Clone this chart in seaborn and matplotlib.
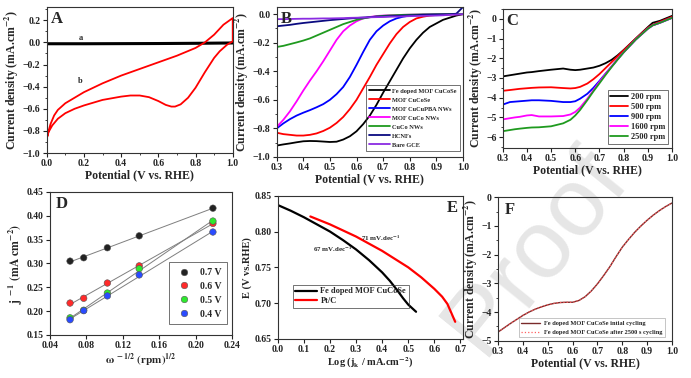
import numpy as np
import pandas as pd
import seaborn as sns
import matplotlib.pyplot as plt
from matplotlib.ticker import AutoMinorLocator, MultipleLocator

# ---------------- data ----------------
# A: CV curves
a_x = [0.0, 0.2, 0.4, 0.6, 0.8, 1.0]
a_y = [-0.012, -0.012, -0.011, -0.010, -0.008, -0.005]
b_x = [0.0, 0.01, 0.02, 0.04, 0.06, 0.1, 0.15, 0.2, 0.3, 0.4, 0.5, 0.6, 0.7, 0.8, 0.85, 0.9, 0.95, 1.0,
       1.0, 0.97, 0.93, 0.9, 0.85, 0.8, 0.76, 0.72, 0.69, 0.67, 0.64, 0.6, 0.55, 0.5, 0.45, 0.4, 0.3, 0.2,
       0.15, 0.1, 0.06, 0.03, 0.01, 0.0]
b_y = [-0.87, -0.80, -0.74, -0.66, -0.61, -0.55, -0.50, -0.45, -0.37, -0.30, -0.24, -0.18, -0.12, -0.05,
       0.0, 0.07, 0.16, 0.22,
       0.01, -0.02, -0.08, -0.14, -0.27, -0.41, -0.50, -0.56, -0.58, -0.58, -0.565, -0.53, -0.495, -0.48,
       -0.48, -0.49, -0.52, -0.57, -0.60, -0.64, -0.69, -0.75, -0.81, -0.87]

# B: LSV of catalysts
lsv_x = [0.3, 0.325, 0.35, 0.375, 0.4, 0.425, 0.45, 0.475, 0.5, 0.525, 0.55, 0.575, 0.6, 0.625, 0.65,
         0.675, 0.7, 0.725, 0.75, 0.775, 0.8, 0.825, 0.85, 0.875, 0.9, 0.925, 0.95, 0.975, 1.0]
lsv_names = ["Fe doped MOF CuCoSe", "MOF CuCoSe", "MOF CuCuPBA NWs", "MOF CuCo NWs",
             "CuCo NWs", "HCNFs", "Bare GCE"]
lsv_fe = [-0.92, -0.912, -0.905, -0.897, -0.89, -0.888, -0.889, -0.892, -0.895, -0.893, -0.878, -0.855,
          -0.82, -0.77, -0.71, -0.635, -0.55, -0.47, -0.39, -0.31, -0.24, -0.18, -0.13, -0.09, -0.065,
          -0.04, -0.025, -0.01, 0.0]
lsv_cucose = [-0.83, -0.84, -0.845, -0.85, -0.85, -0.845, -0.835, -0.818, -0.795, -0.762, -0.72, -0.665,
              -0.6, -0.52, -0.44, -0.355, -0.28, -0.205, -0.14, -0.09, -0.055, -0.03, -0.018, -0.01,
              -0.006, -0.004, -0.002, -0.001, 0.0]
lsv_pba = [-0.80, -0.765, -0.735, -0.71, -0.69, -0.672, -0.652, -0.63, -0.60, -0.56, -0.51, -0.44, -0.355,
           -0.265, -0.18, -0.12, -0.08, -0.05, -0.03, -0.018, -0.01, -0.006, -0.004, -0.003, -0.002,
           -0.001, 0.0, 0.0, 0.0]
lsv_cuco_mof = [-0.79, -0.74, -0.68, -0.61, -0.535, -0.465, -0.40, -0.33, -0.255, -0.18, -0.12, -0.08,
                -0.05, -0.03, -0.02, -0.013, -0.01, -0.008, -0.006, -0.005, -0.004, -0.003, -0.002,
                -0.002, -0.001, -0.001, 0.0, 0.0, 0.0]
lsv_cuco = [-0.23, -0.222, -0.21, -0.198, -0.185, -0.17, -0.15, -0.13, -0.11, -0.09, -0.07, -0.055, -0.04,
            -0.03, -0.022, -0.016, -0.012, -0.009, -0.007, -0.005, -0.004, -0.003, -0.002, -0.002,
            -0.001, -0.001, 0.0, 0.0, 0.0]
lsv_hcnf = [-0.085, -0.08, -0.075, -0.068, -0.062, -0.057, -0.052, -0.047, -0.042, -0.038, -0.034, -0.03,
            -0.027, -0.024, -0.021, -0.018, -0.016, -0.014, -0.012, -0.01, -0.008, -0.007, -0.005,
            -0.004, -0.003, -0.002, -0.001, 0.003, 0.05]
lsv_gce = [-0.035, -0.035, -0.034, -0.033, -0.032, -0.032, -0.031, -0.030, -0.030, -0.029, -0.028, -0.026,
           -0.025, -0.024, -0.022, -0.021, -0.020, -0.018, -0.017, -0.016, -0.014, -0.013, -0.012,
           -0.011, -0.010, -0.008, -0.005, -0.003, 0.0]
lsv_colors = ["black", "red", "blue", "magenta", "#1f9a1f", "#0a0a80", "#8a2be2"]

# C: rotation rates
rde_x = [0.3, 0.33, 0.35, 0.37, 0.4, 0.42, 0.45, 0.5, 0.55, 0.58, 0.6, 0.62, 0.65, 0.675, 0.7, 0.725,
         0.75, 0.775, 0.8, 0.85, 0.9, 0.92, 0.95, 1.0]
rde_rpm = ["200 rpm", "500 rpm", "900 rpm", "1600 rpm", "2500 rpm"]
rde_200 = [-2.92, -2.86, -2.82, -2.78, -2.72, -2.7, -2.65, -2.58, -2.52, -2.58, -2.6, -2.58, -2.52, -2.47,
           -2.38, -2.25, -2.08, -1.85, -1.58, -1.0, -0.42, -0.2, -0.1, 0.15]
rde_500 = [-3.65, -3.61, -3.58, -3.55, -3.52, -3.5, -3.48, -3.47, -3.51, -3.53, -3.51, -3.45, -3.28, -3.06,
           -2.8, -2.5, -2.2, -1.9, -1.6, -1.0, -0.45, -0.3, -0.15, 0.1]
rde_900 = [-4.35, -4.22, -4.2, -4.18, -4.15, -4.13, -4.13, -4.16, -4.22, -4.22, -4.18, -4.05, -3.8, -3.5,
           -3.15, -2.78, -2.42, -2.05, -1.7, -1.05, -0.5, -0.33, -0.2, 0.05]
rde_1600 = [-5.1, -5.04, -5.0, -4.97, -4.9, -4.88, -4.95, -4.95, -4.93, -4.85, -4.72, -4.5, -4.05, -3.62,
            -3.2, -2.8, -2.42, -2.05, -1.7, -1.05, -0.5, -0.33, -0.2, 0.05]
rde_2500 = [-5.7, -5.64, -5.6, -5.57, -5.53, -5.51, -5.5, -5.45, -5.3, -5.12, -4.9, -4.62, -4.12, -3.68,
            -3.27, -2.85, -2.45, -2.07, -1.7, -1.05, -0.5, -0.33, -0.2, 0.05]
rde_colors = ["black", "red", "blue", "magenta", "#1f9a1f"]

# D: Koutecky-Levich
kl_x = [0.062, 0.077, 0.103, 0.138, 0.219]
kl_labels = ["0.7 V", "0.6 V", "0.5 V", "0.4 V"]
kl_07 = [0.305, 0.312, 0.333, 0.358, 0.416]
kl_06 = [0.217, 0.227, 0.259, 0.295, 0.384]
kl_05 = [0.186, 0.202, 0.238, 0.289, 0.389]
kl_04 = [0.182, 0.201, 0.232, 0.276, 0.366]
kl_colors = ["#222222", "#ff2a2a", "#2ee82e", "#2a4bff"]

# E: Tafel
tafel_fe_x = [0.0, 0.05, 0.1, 0.15, 0.2, 0.25, 0.3, 0.35, 0.4, 0.43, 0.46, 0.48, 0.5, 0.53]
tafel_fe_y = [0.837, 0.829, 0.82, 0.81, 0.8, 0.788, 0.775, 0.76, 0.743, 0.731, 0.717, 0.707, 0.698, 0.688]
tafel_pt_x = [0.125, 0.2, 0.3, 0.4, 0.5, 0.55, 0.6, 0.63, 0.65, 0.68]
tafel_pt_y = [0.821, 0.81, 0.793, 0.773, 0.75, 0.736, 0.72, 0.709, 0.699, 0.674]

# F: stability
stab_x = [0.3, 0.325, 0.35, 0.375, 0.4, 0.425, 0.45, 0.475, 0.5, 0.525, 0.55, 0.575, 0.6, 0.625, 0.65,
          0.675, 0.7, 0.725, 0.75, 0.775, 0.8, 0.825, 0.85, 0.875, 0.9, 0.925, 0.95, 0.975, 1.0]
stab_y = [-4.7, -4.55, -4.4, -4.26, -4.12, -4.0, -3.9, -3.82, -3.75, -3.7, -3.67, -3.66, -3.66, -3.6,
          -3.47, -3.27, -3.02, -2.73, -2.42, -2.07, -1.74, -1.47, -1.22, -1.0, -0.8, -0.62, -0.46,
          -0.32, -0.2]

# ---------------- style ----------------
sns.set_style("ticks")
plt.rcParams['font.family'] = ['Liberation Serif', 'DejaVu Serif']
plt.rcParams['font.weight'] = 'bold'
plt.rcParams['axes.labelweight'] = 'bold'
plt.rcParams['mathtext.fontset'] = 'stix'
plt.rcParams['mathtext.default'] = 'bf'
plt.rcParams['axes.edgecolor'] = '#333333'
plt.rcParams['axes.linewidth'] = 0.8
plt.rcParams['xtick.major.size'] = 3
plt.rcParams['ytick.major.size'] = 3
plt.rcParams['xtick.minor.size'] = 1.5
plt.rcParams['ytick.minor.size'] = 1.5
plt.rcParams['xtick.labelsize'] = 7
plt.rcParams['ytick.labelsize'] = 7
plt.rcParams['axes.facecolor'] = 'none'

fig = plt.figure(figsize=(6.91, 3.78), dpi=100)
fig.patch.set_facecolor('white')

# watermark behind everything
fig.text(0.775, 0.335, "Proof", rotation=51, fontsize=70, color='#e6e6e6',
         family='Liberation Sans', weight='normal', ha='center', va='center', zorder=-5)

axA = fig.add_axes([0.0676, 0.5952, 0.2692, 0.3862])
axB = fig.add_axes([0.4004, 0.5847, 0.2696, 0.3968])
axC = fig.add_axes([0.7275, 0.6085, 0.2450, 0.3677])
axD = fig.add_axes([0.0724, 0.1138, 0.2634, 0.3783])
axE = fig.add_axes([0.4019, 0.1032, 0.2682, 0.3791])
axF = fig.add_axes([0.7207, 0.0987, 0.2518, 0.3794])

jlab = r'Current density (mA.cm$^{-2}$)'
vlab = 'Potential (V vs. RHE)'


def letter(ax, s, x=0.03, y=0.97, ha='left'):
    ax.text(x, y, s, transform=ax.transAxes, fontsize=12, weight='bold', ha=ha, va='top')


def line(ax, x, y, **kw):
    sns.lineplot(x=x, y=y, ax=ax, sort=False, estimator=None, **kw)


# ---- A ----
line(axA, a_x, a_y, color='black', lw=2.2)
line(axA, b_x, b_y, color='red', lw=1.3)
axA.set_xlim(0, 1.0)
axA.set_ylim(-1.0, 0.32)
axA.xaxis.set_major_locator(MultipleLocator(0.2))
axA.yaxis.set_major_locator(MultipleLocator(0.2))
axA.xaxis.set_minor_locator(AutoMinorLocator(2))
axA.yaxis.set_minor_locator(AutoMinorLocator(2))
axA.text(0.17, 0.02, 'a', fontsize=6, weight='bold')
axA.text(0.17, -0.37, 'b', fontsize=6, weight='bold')
letter(axA, 'A', x=0.02)
axA.set_xlabel(vlab, fontsize=8.5, labelpad=1)
axA.set_ylabel(jlab, fontsize=8.5, labelpad=1)

# ---- B ----
for yv, nm, c in zip([lsv_fe, lsv_cucose, lsv_pba, lsv_cuco_mof, lsv_cuco, lsv_hcnf, lsv_gce], lsv_names, lsv_colors):
    line(axB, lsv_x, yv, color=c, lw=1.3, label=nm)
axB.set_xlim(0.3, 1.0)
axB.set_ylim(-1.0, 0.05)
axB.xaxis.set_major_locator(MultipleLocator(0.1))
axB.yaxis.set_major_locator(MultipleLocator(0.2))
axB.yaxis.set_minor_locator(AutoMinorLocator(2))
letter(axB, 'B', x=0.02)
axB.set_xlabel(vlab, fontsize=8.5, labelpad=1)
axB.set_ylabel(jlab, fontsize=8.5, labelpad=1)
lg = axB.legend(loc='lower right', fontsize=4.6, frameon=True, fancybox=False, edgecolor='#333333',
                handlelength=3.2, labelspacing=0.55, borderpad=0.5, handletextpad=0.4,
                bbox_to_anchor=(1.0, 0.02))
lg.get_frame().set_linewidth(0.6)

# ---- C ----
for yv, nm, c in zip([rde_200, rde_500, rde_900, rde_1600, rde_2500], rde_rpm, rde_colors):
    line(axC, rde_x, yv, color=c, lw=1.3, label=nm)
axC.set_xlim(0.3, 1.0)
axC.set_ylim(-6.55, 0.5)
axC.xaxis.set_major_locator(MultipleLocator(0.1))
axC.yaxis.set_major_locator(MultipleLocator(1))
axC.yaxis.set_minor_locator(AutoMinorLocator(2))
letter(axC, 'C', x=0.02)
axC.set_xlabel(vlab, fontsize=8.5, labelpad=1)
axC.set_ylabel(jlab, fontsize=8.5, labelpad=1)
lg = axC.legend(loc='lower right', fontsize=6, frameon=True, fancybox=False, edgecolor='#333333',
                handlelength=2.2, labelspacing=0.25, borderpad=0.3, handletextpad=0.3)
lg.get_frame().set_linewidth(0.6)

# ---- D ----
kl_df = pd.DataFrame({'x': kl_x * 4,
                      'y': kl_07 + kl_06 + kl_05 + kl_04,
                      'E': sum([[l] * len(kl_x) for l in kl_labels], [])})
for lab in kl_labels:
    sub = kl_df[kl_df['E'] == lab]
    sns.regplot(data=sub, x='x', y='y', ax=axD, scatter=False, ci=None,
                line_kws={'color': '#7f7f7f', 'lw': 0.7})
sns.scatterplot(data=kl_df, x='x', y='y', hue='E', palette=kl_colors, ax=axD, s=22,
                edgecolor='#555555', linewidth=0.4, zorder=5)
axD.set_xlim(0.04, 0.24)
axD.set_ylim(0.15, 0.45)
axD.xaxis.set_major_locator(MultipleLocator(0.04))
axD.yaxis.set_major_locator(MultipleLocator(0.05))
axD.yaxis.set_major_formatter(plt.FormatStrFormatter('%.2f'))
axD.xaxis.set_major_formatter(plt.FormatStrFormatter('%.2f'))
letter(axD, 'D', x=0.03)
axD.set_xlabel(r'$\omega^{\ -1/2}\ \left(\mathrm{rpm}\right)^{1/2}$', fontsize=8, labelpad=1)
axD.set_ylabel(r'$\mathrm{j}^{\ -1}\ \left(\mathrm{mA\ cm}^{-2}\right)$', fontsize=8.5, labelpad=1)
lg = axD.legend(loc='lower right', fontsize=7, frameon=True, fancybox=False, edgecolor='#333333',
                labelspacing=0.5, borderpad=0.6, handletextpad=0.6, title=None,
                bbox_to_anchor=(1.0, 0.04))
lg.get_frame().set_linewidth(0.6)

# ---- E ----
line(axE, tafel_fe_x, tafel_fe_y, color='black', lw=1.6, label='Fe doped MOF CuCoSe')
line(axE, tafel_pt_x, tafel_pt_y, color='red', lw=1.6, label='Pt/C')
axE.set_xlim(0, 0.71)
axE.set_ylim(0.65, 0.85)
axE.xaxis.set_major_locator(MultipleLocator(0.1))
axE.yaxis.set_major_locator(MultipleLocator(0.05))
axE.yaxis.set_major_formatter(plt.FormatStrFormatter('%.2f'))
axE.text(0.135, 0.772, r'67 mV.dec$^{-1}$', fontsize=5, weight='bold')
axE.text(0.32, 0.787, r'71 mV.dec$^{-1}$', fontsize=5, weight='bold')
letter(axE, 'E', x=0.97, ha='right')
axE.set_xlabel(r'Log (j$_{\mathrm{k}}$ / mA.cm$^{-2}$)', fontsize=7.5, labelpad=1)
axE.set_ylabel('E (V vs.RHE)', fontsize=7.5, labelpad=2)
lg = axE.legend(loc='lower left', fontsize=6, frameon=True, fancybox=False, edgecolor='#333333',
                handlelength=2.6, labelspacing=0.2, borderpad=0.3, handletextpad=0.4,
                bbox_to_anchor=(0.06, 0.19))
lg.get_frame().set_linewidth(0.6)

# ---- F ----
line(axF, stab_x, stab_y, color='#7a2a2a', lw=1.0, label='Fe doped MOF CuCoSe intial cycling')
line(axF, stab_x, stab_y, color='#ff6060', lw=0.9, linestyle=':', label='Fe doped MOF CuCoSe after 2500 s cycling')
axF.set_xlim(0.3, 1.0)
axF.set_ylim(-5, 0)
axF.xaxis.set_major_locator(MultipleLocator(0.1))
axF.yaxis.set_major_locator(MultipleLocator(1))
axF.yaxis.set_minor_locator(AutoMinorLocator(2))
letter(axF, 'F', x=0.04)
axF.set_xlabel(vlab, fontsize=8.5, labelpad=1)
axF.set_ylabel(jlab, fontsize=8.5, labelpad=1)
lg = axF.legend(loc='lower left', fontsize=4.6, frameon=True, fancybox=False, edgecolor='#999999',
                handlelength=3.0, labelspacing=0.5, borderpad=0.4, handletextpad=0.6,
                bbox_to_anchor=(0.1, 0.0))
lg.get_frame().set_linewidth(0.5)

for ax in [axA, axB, axC, axD, axE, axF]:
    ax.tick_params(axis='both', which='both', pad=1.5, colors='#222222')
    for s in ax.spines.values():
        s.set_visible(True)

fig.savefig('out.png', dpi=100)
